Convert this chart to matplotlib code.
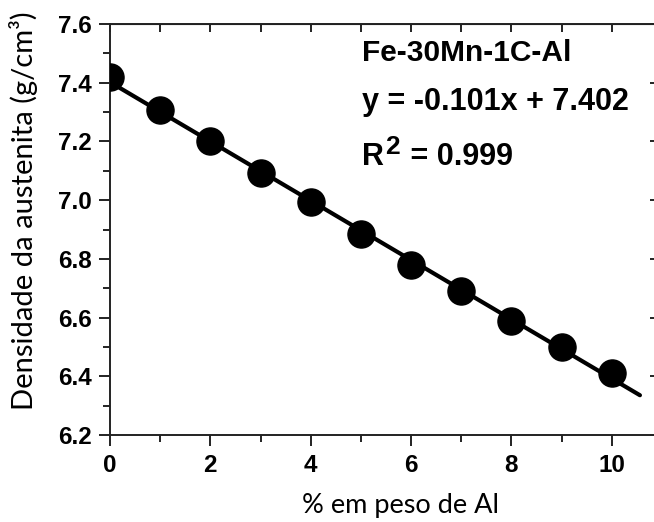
import numpy as np
import matplotlib
matplotlib.use("Agg")
import matplotlib.pyplot as plt
from matplotlib.ticker import MultipleLocator

# Dados
al_pct = [0, 1, 2, 3, 4, 5, 6, 7, 8, 9, 10]
densidade = [7.42, 7.307, 7.20, 7.093, 6.994, 6.885, 6.78, 6.69, 6.59, 6.50, 6.41]

# Ajuste linear indicado no gráfico
slope = -0.101
intercept = 7.402
fit_x = [0, 10.56]

W, H = 654, 522
fig = plt.figure(figsize=(W / 100, H / 100), dpi=100)
ax = fig.add_axes([110 / W, 1 - 435 / H, (657 - 110) / W, (435 - 24) / H])

fit_y = [slope * x + intercept for x in fit_x]
ax.plot(fit_x, fit_y, color='black', lw=3, solid_capstyle='round', zorder=2)
ax.plot(al_pct, densidade, 'o', color='black', markersize=19.5, zorder=3)

ax.set_xlim(0, 10.9)
ax.set_ylim(6.2, 7.6)

for s in ax.spines.values():
    s.set_linewidth(1.4)
    s.set_color('#222222')

tick_font = dict(family='Liberation Sans', weight='bold', size=17.5)

ax.xaxis.set_minor_locator(MultipleLocator(1))
ax.yaxis.set_minor_locator(MultipleLocator(0.1))
ax.tick_params(which='major', direction='out', length=8, width=1.4, color='#222222', pad=5)
ax.tick_params(which='minor', direction='out', length=5, width=1.4, color='#222222')
ax.tick_params(axis='x', which='major', pad=6)
yt = np.arange(6.2, 7.61, 0.2)
ax.set_yticks(yt)
ax.set_yticklabels([f"{v:.1f}" for v in yt], **tick_font)
ax.set_xticks(range(0, 11, 2))
ax.set_xticklabels([str(v) for v in range(0, 11, 2)], **tick_font)

# eixos espelhados (ticks para dentro)
top = ax.secondary_xaxis('top')
top.xaxis.set_major_locator(MultipleLocator(1))
top.tick_params(direction='in', length=6, width=1.4, color='#222222', labeltop=False)
right = ax.secondary_yaxis('right')
right.yaxis.set_major_locator(MultipleLocator(0.2))
right.tick_params(direction='in', length=5, width=1.4, color='#222222', labelright=False)

txt = dict(family='Liberation Sans', weight='bold', color='black', va='baseline')
ax.text(5.02, 7.474, 'Fe-30Mn-1C-Al', size=21.5, **txt)
ax.text(5.02, 7.307, 'y = -0.101x + 7.402', size=22, **txt)
ax.text(5.02, 7.12, 'R', size=22, **txt)
ax.annotate('2', (5.02, 7.12), xytext=(23, 11), textcoords='offset pixels',
            size=19, **txt)
ax.annotate(' = 0.999', (5.02, 7.12), xytext=(40, 0), textcoords='offset pixels',
            size=22, **txt)

fig.text(24 / W, 1 - 211 / H, 'Densidade da austenita (g/cm³)', rotation=90,
         ha='center', va='center', family='Lato', size=21)
fig.text(401 / W, 1 - 505 / H, '% em peso de Al', ha='center', va='center',
         family='Lato', size=19.5)

fig.savefig('out.png', dpi=100)
